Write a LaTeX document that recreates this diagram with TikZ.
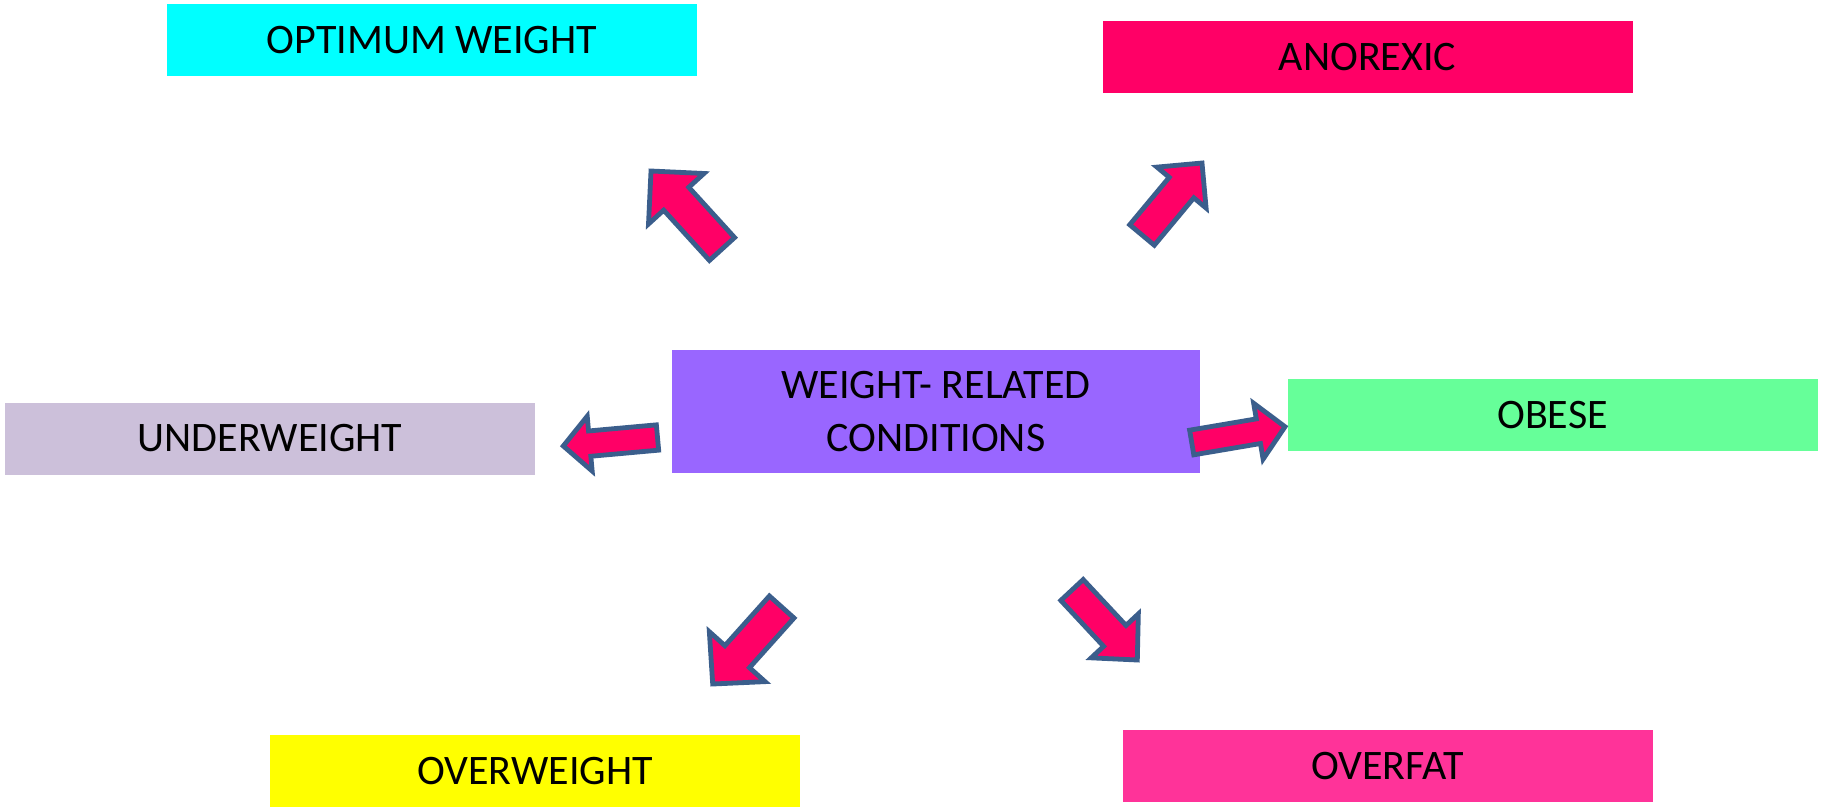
\documentclass[tikz,border=0pt]{standalone}
\usepackage{fontspec}
\setmainfont{Carlito}
\usetikzlibrary{calc}

\definecolor{optfill}{HTML}{00FFFF}
\definecolor{anofill}{HTML}{FF0066}
\definecolor{underfill}{HTML}{CCC0DA}
\definecolor{centerfill}{HTML}{9966FF}
\definecolor{obesefill}{HTML}{66FF99}
\definecolor{overwfill}{HTML}{FFFF00}
\definecolor{overfatfill}{HTML}{FF3399}
\definecolor{arrowfill}{HTML}{FF0066}
\definecolor{arrowedge}{HTML}{3B5E8C}

\tikzset{
  label box/.style={rectangle, inner sep=0pt, outer sep=0pt, draw=none,
    minimum width=530pt, minimum height=72pt, text=black, align=center,
    font=\fontsize{42}{53}\selectfont},
  blockarrow/.style={draw=arrowedge, fill=arrowfill, line width=4.8pt, line join=miter},
}

% block arrow from a tail coordinate to a tip coordinate
% #1 tail, #2 tip, #3 shaft half width, #4 head half width, #5 head length
\newcommand\blockarr[5]{%
  \coordinate (neck) at ($(#2)!#5pt!(#1)$);
  \draw[blockarrow]
    ($(#1)!#3pt!90:(#2)$) -- ($(neck)!#3pt!90:(#2)$) -- ($(neck)!#4pt!90:(#2)$)
    -- (#2)
    -- ($(neck)!#4pt!-90:(#2)$) -- ($(neck)!#3pt!-90:(#2)$) -- ($(#1)!#3pt!-90:(#2)$)
    -- cycle;}

\begin{document}
\begin{tikzpicture}[x=1pt, y=-1pt]
  \fill[white] (0,0) rectangle (1825,808);
  \useasboundingbox (0,0) rectangle (1825,808);

  % condition boxes
  \node[label box, fill=optfill]     (opt)     at (432,40)    {OPTIMUM WEIGHT};
  \node[label box, fill=anofill]     (ano)     at (1367.5,57) {ANOREXIC};
  \node[label box, fill=underfill]   (under)   at (270,438.5) {UNDERWEIGHT};
  \node[label box, fill=centerfill, minimum width=528pt, minimum height=123pt]
                                     (center)  at (936,411.5) {WEIGHT- RELATED\\CONDITIONS};
  \node[label box, fill=obesefill]   (obese)   at (1552.5,415) {OBESE};
  \node[label box, fill=overwfill]   (overw)   at (535,771)   {OVERWEIGHT};
  \node[label box, fill=overfatfill] (overfat) at (1387.5,766) {OVERFAT};

  % arrow tails and tips
  \coordinate (t1) at (722,249);     \coordinate (h1) at (651,171);
  \coordinate (t2) at (1142,235);    \coordinate (h2) at (1202,163);
  \coordinate (t3) at (657.5,437.5); \coordinate (h3) at (563.3,446);
  \coordinate (t4) at (1191.7,442.5);\coordinate (h4) at (1285,426.7);
  \coordinate (t5) at (781.7,607);   \coordinate (h5) at (712.7,684);
  \coordinate (t6) at (1072,590);    \coordinate (h6) at (1137.3,660);

  \blockarr{t1}{h1}{17}{37.5}{37.5}
  \blockarr{t2}{h2}{16}{32}{32}
  \blockarr{t3}{h3}{12.7}{27.5}{26.5}
  \blockarr{t4}{h4}{12.5}{28.3}{27}
  \blockarr{t5}{h5}{16.5}{37.4}{36.7}
  \blockarr{t6}{h6}{15.3}{32.2}{33}
\end{tikzpicture}
\end{document}
